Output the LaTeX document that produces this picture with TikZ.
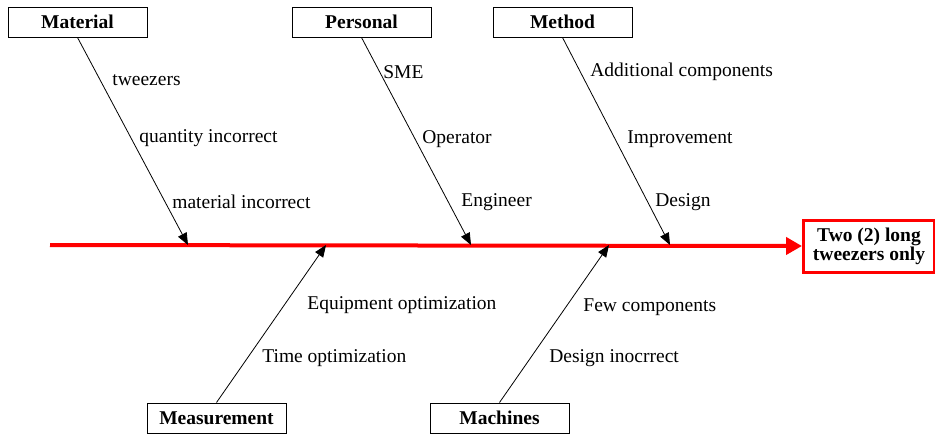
\documentclass[tikz,border=0pt]{standalone}
\usepackage{fontspec}
\setmainfont{Liberation Serif}
\usetikzlibrary{arrows.meta}
\begin{document}
\begin{tikzpicture}[x=0.5pt,y=-0.5pt,
  cat/.style={draw=black, line width=0.5pt, minimum width=69.5pt, minimum height=15pt, inner sep=0pt, font=\fontsize{9.75}{11}\selectfont\bfseries},
  lbl/.style={anchor=west, inner sep=0pt, font=\fontsize{9.75}{11}\selectfont},
  bone/.style={line width=0.4pt, -{Triangle[length=6pt,width=4.8pt]}},
  spine/.style={red, line width=2pt, -{Triangle[length=8pt,width=8.5pt]}},
  effectbox/.style={draw=red, line width=1.5pt, minimum width=65.5pt, minimum height=26pt, inner sep=0pt, align=center, font=\fontsize{9.75}{9.6}\selectfont\bfseries}]
\useasboundingbox (0,0) rectangle (935,435);
% categories
\node[cat] (material) at (77.5,22) {Material};
\node[cat] (personal) at (361.5,22) {Personal};
\node[cat] (method) at (562.5,22) {Method};
\node[cat] (measurement) at (216.5,418) {Measurement};
\node[cat] (machines) at (499.5,418) {Machines};
% effect
\node[effectbox] (effect) at (869,246) {Two (2) long\\tweezers only};
% spine
\coordinate (s0) at (50,245);
\draw[spine] (s0) -- (effect.west);
% tips on spine
\coordinate (t1) at (188,245);
\coordinate (t2) at (471,245);
\coordinate (t3) at (670,245);
\coordinate (t4) at (326,245);
\coordinate (t5) at (609,245);
\draw[bone] (material.south) -- (t1);
\draw[bone] (personal.south) -- (t2);
\draw[bone] (method.south) -- (t3);
\draw[bone] (measurement.north) -- (t4);
\draw[bone] (machines.north) -- (t5);
% labels
\node[lbl] (l1) at (112,80) {tweezers};
\node[lbl] (l2) at (139,138) {quantity incorrect};
\node[lbl] (l3) at (172,202) {material incorrect};
\node[lbl] (l4) at (383,72) {SME};
\node[lbl] (l5) at (422,139) {Operator};
\node[lbl] (l6) at (461,202) {Engineer};
\node[lbl] (l7) at (590,72) {Additional components};
\node[lbl] (l8) at (627,139) {Improvement};
\node[lbl] (l9) at (655,202) {Design};
\node[lbl] (l10) at (307,305) {Equipment optimization};
\node[lbl] (l11) at (262,358) {Time optimization};
\node[lbl] (l12) at (583,307) {Few components};
\node[lbl] (l13) at (549,358) {Design inocrrect};
\end{tikzpicture}
\end{document}
